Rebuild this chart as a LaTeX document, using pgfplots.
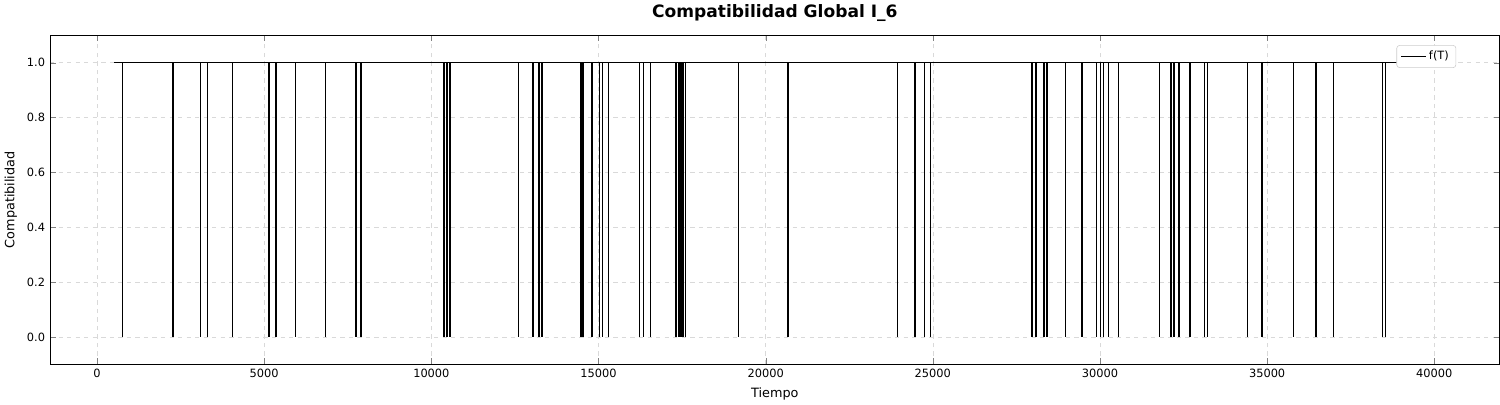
\documentclass[border=0pt]{standalone}
\usepackage{pgfplots}
\pgfplotsset{compat=1.18}
\usepackage{fontspec}
\setmainfont{DejaVu Sans}
\begin{document}
\begin{tikzpicture}
\begin{axis}[
  scale only axis, width=14.1in, height=3.2in,
  xmin=-1407, xmax=41957, ymin=-0.1, ymax=1.1,
  xtick={0,5000,...,40000}, ytick={0,0.2,...,1.0},
  scaled x ticks=false,
  xticklabel style={/pgf/number format/1000 sep={}},
  yticklabel style={/pgf/number format/.cd,fixed,fixed zerofill,precision=1},
  /pgf/number format/assume math mode=true,
  ticklabel style={font=\footnotesize},
  grid=major, grid style={dashed,gray!30},
  title={\bfseries Compatibilidad Global I\_6}, title style={font=\large},
  xlabel={Tiempo}, ylabel={Compatibilidad},
  label style={font=\small},
  legend pos=north east, legend style={font=\footnotesize, draw=gray!40, rounded corners=2pt},
  legend image code/.code={\draw[black,semithick] (0cm,0cm) -- (0.6cm,0cm);},
]
\addplot[const plot, black, semithick] coordinates {
(520,1)
(750,0)(765,1)(2260,0)(2275,1)(3090,0)(3105,1)(3300,0)(3315,1)(4040,0)(4055,1)
(5140,0)(5155,1)(5350,0)(5365,1)(5930,0)(5945,1)(6820,0)(6835,1)(7740,0)(7755,1)
(7890,0)(7905,1)(10370,0)(10385,1)(10460,0)(10475,1)(10550,0)(10565,1)
(12600,0)(12615,1)(13030,0)(13045,1)(13210,0)(13225,1)(13300,0)(13315,1)
(14470,0)(14485,1)(14530,0)(14545,1)(14800,0)(14815,1)(15020,0)(15035,1)
(15110,0)(15125,1)(15290,0)(15305,1)(16210,0)(16225,1)(16330,0)(16345,1)
(16540,0)(16555,1)(17310,0)(17330,1)(17400,0)(17420,1)(17460,0)(17480,1)
(17520,0)(17540,1)(17590,0)(17610,1)(19170,0)(19185,1)(20640,0)(20680,1)
(23940,0)(23955,1)(24460,0)(24475,1)(24740,0)(24755,1)(24920,0)(24935,1)
(27950,0)(27965,1)(28070,0)(28085,1)(28320,0)(28335,1)(28410,0)(28425,1)
(28960,0)(28975,1)(29450,0)(29465,1)(29880,0)(29895,1)(30000,0)(30015,1)
(30090,0)(30105,1)(30240,0)(30255,1)(30550,0)(30565,1)(31770,0)(31785,1)
(32110,0)(32125,1)(32200,0)(32215,1)(32350,0)(32365,1)(32690,0)(32705,1)
(33120,0)(33135,1)(33210,0)(33225,1)(34400,0)(34415,1)(34830,0)(34845,1)
(35780,0)(35795,1)(36450,0)(36465,1)(36970,0)(36985,1)(38440,0)(38455,1)
(38530,0)(38545,1)(39970,1)
};
\addlegendentry{f(T)}
\end{axis}
\end{tikzpicture}
\end{document}
